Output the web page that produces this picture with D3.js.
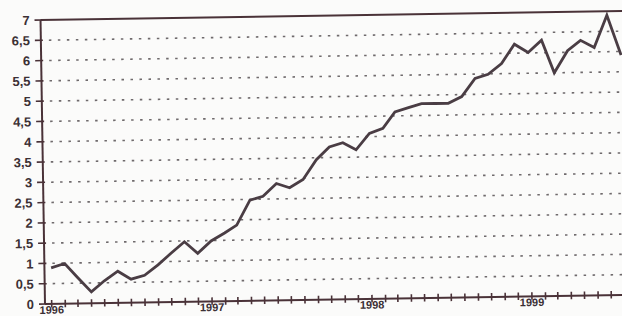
<!DOCTYPE html>
<html>
<head>
<meta charset="utf-8">
<script src="https://cdnjs.cloudflare.com/ajax/libs/d3/7.8.5/d3.min.js"></script>
<style>
  body { margin: 0; background: #fbfbfa; }
  svg { display: block; }
</style>
</head>
<body>
<div id="chart"></div>
<script>
// monthly values, Jan 1996 .. Aug 1999
var values = [
  0.89, 0.99, 0.64, 0.28, 0.55, 0.78, 0.58, 0.67, 0.92, 1.20, 1.48, 1.19,
  1.49, 1.68, 1.87, 2.48, 2.57, 2.88, 2.77, 2.97, 3.45, 3.76, 3.86, 3.68,
  4.08, 4.20, 4.60, 4.70, 4.79, 4.79, 4.79, 4.95, 5.39, 5.49, 5.75, 6.22,
  6.01, 6.31, 5.50, 6.04, 6.29, 6.11, 6.90, 5.91
];
var firstMonth = new Date(1996, 0, 1);
var yearLabels = ["1996", "1997", "1998", "1999"];
var yTicks = [0, 0.5, 1, 1.5, 2, 2.5, 3, 3.5, 4, 4.5, 5, 5.5, 6, 6.5, 7];

var width = 622,
    height = 316,
    ox = 45,
    oy = 304,
    ink = "#3b3035";

var svg = d3.select("#chart").append("svg")
  .attr("width", width)
  .attr("height", height);

// the scan is a little tilted, so the whole frame is too
var g = svg.append("g")
  .attr("transform", "rotate(-0.9," + ox + "," + oy + ")");

var months = values.map(function(v, i){ return d3.timeMonth.offset(firstMonth, i); });

var x = d3.scaleTime()
  .domain([months[0], months[months.length - 1]])
  .range([51.7, 624.9]);

var y = d3.scaleLinear()
  .domain([0, 7])
  .range([oy, 20]);

var fmt = function(v){ return String(v).replace(".", ","); };

// dotted grid
g.selectAll("line.grid")
  .data(yTicks.filter(function(t){ return t > 0 && t < 7; }))
  .enter().append("line")
  .attr("class", "grid")
  .attr("x1", ox + 8).attr("x2", 660)
  .attr("y1", function(d){ return y(d); })
  .attr("y2", function(d){ return y(d); })
  .style("stroke", "#6f6a6c")
  .style("stroke-width", 1.6)
  .style("stroke-dasharray", "2.5,6.5");

// top frame line at 7
g.append("line")
  .attr("x1", ox).attr("x2", 660)
  .attr("y1", y(7)).attr("y2", y(7))
  .style("stroke", "#4a3238").style("stroke-width", 2);

// y axis
g.append("line")
  .attr("x1", ox).attr("x2", ox)
  .attr("y1", y(0)).attr("y2", y(7))
  .style("stroke", "#4a3238").style("stroke-width", 2);

g.selectAll("line.ytick")
  .data(yTicks)
  .enter().append("line")
  .attr("class", "ytick")
  .attr("x1", ox - 6).attr("x2", ox + 2)
  .attr("y1", function(d){ return y(d); })
  .attr("y2", function(d){ return y(d); })
  .style("stroke", "#4a3238").style("stroke-width", 1.6);

g.selectAll("text.ylab")
  .data(yTicks)
  .enter().append("text")
  .attr("class", "ylab")
  .attr("x", ox - 11)
  .attr("y", function(d){ return y(d); })
  .attr("dy", "0.36em")
  .style("text-anchor", "end")
  .style("font", "bold 13px 'Liberation Sans', Arial, sans-serif")
  .style("fill", ink)
  .text(function(d){ return fmt(d); });

// x axis
g.append("line")
  .attr("x1", ox).attr("x2", 660)
  .attr("y1", y(0)).attr("y2", y(0))
  .style("stroke", "#4a3238").style("stroke-width", 2);

g.selectAll("line.xtick")
  .data(x.ticks(d3.timeMonth.every(1)))
  .enter().append("line")
  .attr("class", "xtick")
  .attr("x1", function(d){ return x(d); })
  .attr("x2", function(d){ return x(d); })
  .attr("y1", oy - 4).attr("y2", oy + 3.5)
  .style("stroke", "#4a3238").style("stroke-width", 1.6);

// year labels sit right at the bottom edge, as in the scan
g.selectAll("text.xlab")
  .data(yearLabels)
  .enter().append("text")
  .attr("class", "xlab")
  .attr("x", function(d){ return x(new Date(+d, 0, 1)); })
  .attr("y", oy + 9.8)
  .style("text-anchor", "middle")
  .style("font", "bold 11px 'Liberation Sans', Arial, sans-serif")
  .style("fill", ink)
  .text(function(d){ return d; });

// data line
var line = d3.line()
  .x(function(d, i){ return x(months[i]); })
  .y(function(d){ return y(d); });

g.append("path")
  .datum(values)
  .attr("d", line)
  .style("fill", "none")
  .style("stroke", "#4a3d44")
  .style("stroke-width", 2.8)
  .style("stroke-linejoin", "miter");
</script>
</body>
</html>
